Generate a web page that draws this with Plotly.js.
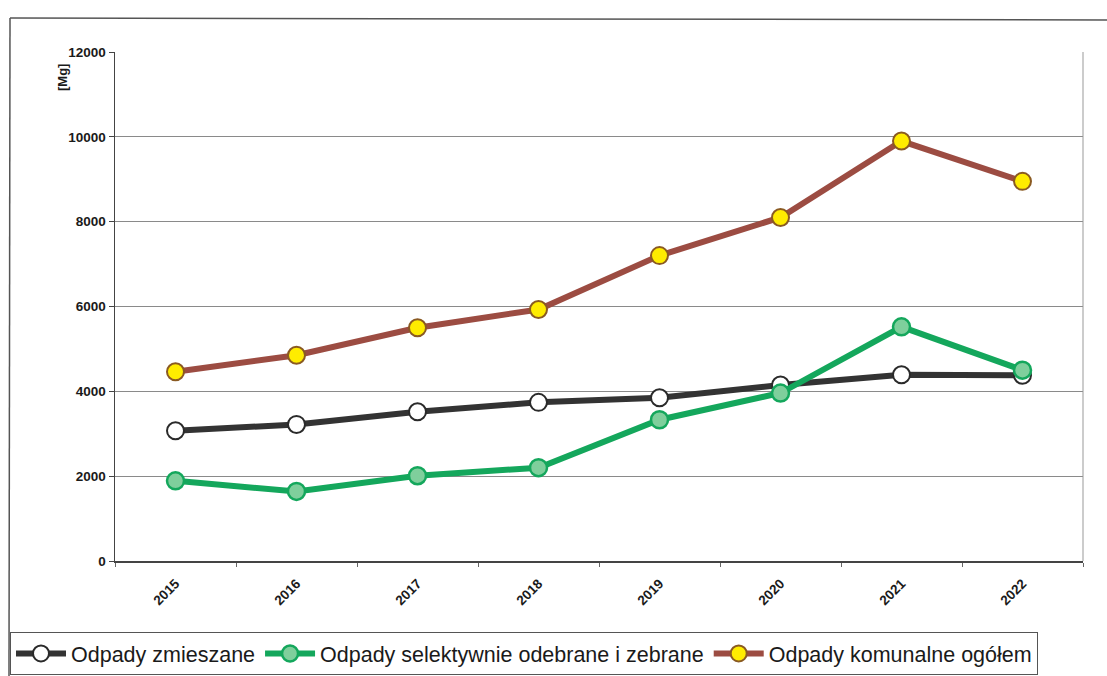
<!DOCTYPE html>
<html>
<head>
<meta charset="utf-8">
<script src="https://cdn.plot.ly/plotly-3.0.1.min.js"></script>
<style>html,body{margin:0;padding:0;background:#fff;}#chart{width:1107px;height:676px;}</style>
</head>
<body>
<div id="chart"></div>
<script>
const years = ['2015','2016','2017','2018','2019','2020','2021','2022'];
const zmieszane = [3070, 3220, 3520, 3740, 3850, 4150, 4390, 4380];
const selektywne = [1890, 1640, 2010, 2200, 3330, 3960, 5520, 4500];
const ogolem = [4460, 4850, 5500, 5930, 7200, 8100, 9900, 8950];
const yTicks = [0, 2000, 4000, 6000, 8000, 10000, 12000];
const names = ['Odpady zmieszane', 'Odpady selektywnie odebrane i zebrane', 'Odpady komunalne ogółem'];

const W = 1107, H = 676, L = 115, R = 24, T = 52, B = 115;
const pw = W - L - R, ph = H - T - B;
const px = v => (v - L) / pw;
const py = v => (H - B - v) / ph;

const traces = [
  {x: years, y: zmieszane, name: names[0], type: 'scatter', mode: 'lines+markers',
   line: {color: '#333333', width: 6},
   marker: {size: 17, color: '#ffffff', line: {color: '#2a2a2a', width: 2}}},
  {x: years, y: selektywne, name: names[1], type: 'scatter', mode: 'lines+markers',
   line: {color: '#14a75c', width: 6},
   marker: {size: 17, color: '#7fcf9c', line: {color: '#14a75c', width: 2.5}}},
  {x: years, y: ogolem, name: names[2], type: 'scatter', mode: 'lines+markers',
   line: {color: '#9c4c42', width: 6},
   marker: {size: 17, color: '#ffec00', line: {color: '#8a5a22', width: 2}}}
];

const layout = {
  width: W, height: H,
  margin: {l: L, r: R, t: T, b: B, autoexpand: false},
  paper_bgcolor: '#ffffff', plot_bgcolor: '#ffffff',
  font: {family: 'Liberation Sans, Arial, sans-serif', color: '#222'},
  showlegend: true,
  xaxis: {
    type: 'category', tickangle: -45, tickson: 'boundaries',
    ticks: 'outside', ticklen: 4, tickcolor: '#666', ticklabelstandoff: 8,
    showline: true, linecolor: '#444', linewidth: 1.5, mirror: false,
    showgrid: false, zeroline: false,
    tickfont: {size: 13.5, color: '#1a1a1a', weight: 'bold'},
    range: [-0.5, 7.5], automargin: false
  },
  yaxis: {
    range: [0, 12000], tickvals: yTicks, ticktext: yTicks.map(String),
    ticks: 'outside', ticklen: 5, tickcolor: '#444',
    showline: true, linecolor: '#444', linewidth: 1.5,
    showgrid: true, gridcolor: '#8a8a8a', gridwidth: 1, zeroline: false,
    tickfont: {size: 13.5, color: '#1a1a1a', weight: 'bold'}, automargin: false
  },
  legend: {
    orientation: 'h', x: px(10), y: py(632), xanchor: 'left', yanchor: 'top',
    bordercolor: '#555', borderwidth: 1, bgcolor: '#ffffff',
    font: {size: 21.5, color: '#1a1a1a'},
    itemwidth: 50, tracegroupgap: 0
  },
  annotations: [
    {text: '[Mg]', xref: 'paper', yref: 'paper', x: px(53), y: py(62),
     textangle: -90, showarrow: false, font: {size: 13, color: '#1a1a1a', weight: 'bold'}}
  ],
  shapes: [
    {type: 'line', xref: 'paper', yref: 'paper', x0: px(10), x1: px(1107), y0: py(18), y1: py(20), line: {color: '#555', width: 1.5}},
    {type: 'line', xref: 'paper', yref: 'paper', x0: px(10), x1: px(9), y0: py(18), y1: py(676), line: {color: '#555', width: 1.5}},
    {type: 'line', xref: 'paper', yref: 'paper', x0: 1, x1: 1, y0: 0, y1: 1, line: {color: '#999', width: 1}}
  ]
};

Plotly.newPlot('chart', traces, layout, {displayModeBar: false, staticPlot: true});
</script>
</body>
</html>
